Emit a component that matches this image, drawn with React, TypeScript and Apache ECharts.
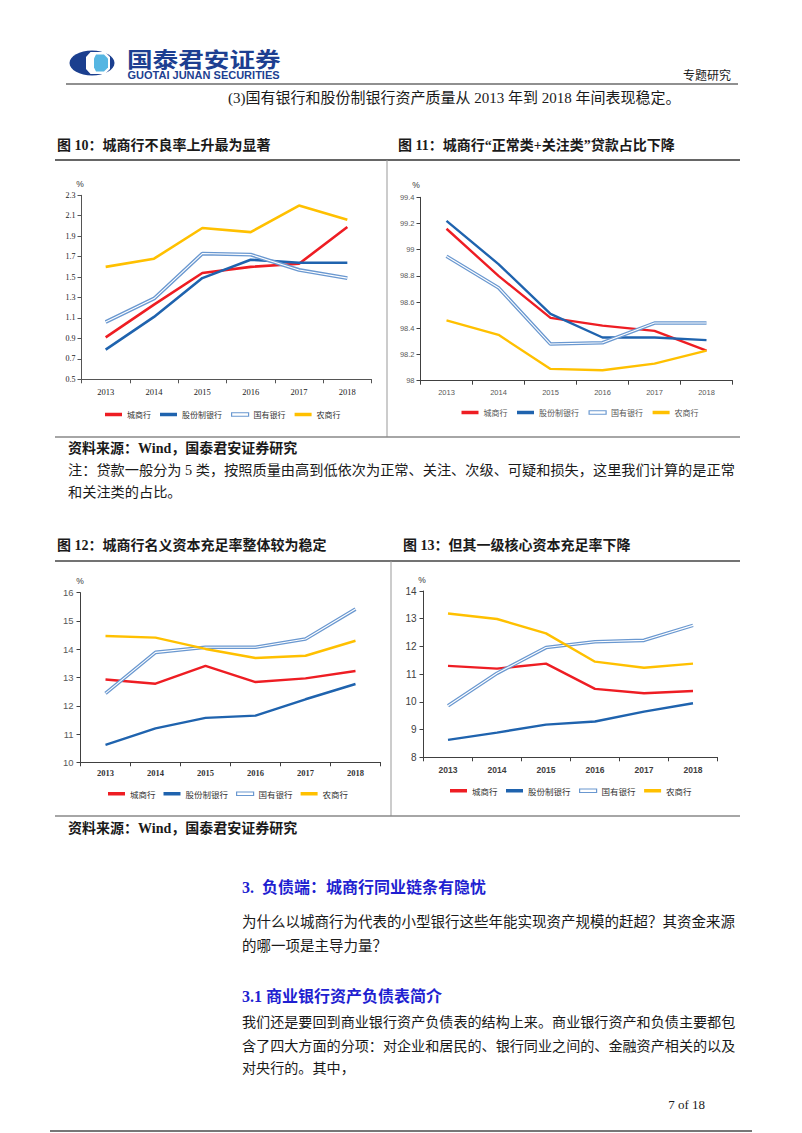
import React, { useEffect, useRef } from "react";
import * as echarts from "echarts";

// ---------- data ----------
const years = ["2013", "2014", "2015", "2016", "2017", "2018"];
const bankNames = ["城商行", "股份制银行", "国有银行", "农商行"];

// 图10 不良率 (%)
const npl_city = [0.91, 1.23, 1.54, 1.6, 1.63, 1.99];
const npl_joint = [0.79, 1.11, 1.49, 1.67, 1.64, 1.64];
const npl_state = [1.06, 1.29, 1.73, 1.72, 1.57, 1.49];
const npl_rural = [1.6, 1.68, 1.98, 1.94, 2.2, 2.06];
const npl_axis = [0.5, 2.3, 0.2];

// 图11 正常类+关注类 占比 (%)
const normal_city = [99.16, 98.8, 98.48, 98.42, 98.38, 98.23];
const normal_joint = [99.22, 98.89, 98.51, 98.33, 98.33, 98.31];
const normal_state = [98.95, 98.71, 98.28, 98.29, 98.44, 98.44];
const normal_rural = [98.46, 98.35, 98.09, 98.08, 98.13, 98.23];
const normal_axis = [98, 99.4, 0.2];

// 图12 资本充足率 (%)
const car_city = [12.93, 12.78, 13.41, 12.84, 12.97, 13.23];
const car_joint = [10.62, 11.2, 11.57, 11.65, 12.23, 12.77];
const car_state = [12.44, 13.89, 14.07, 14.07, 14.36, 15.42];
const car_rural = [14.47, 14.41, 14.01, 13.69, 13.77, 14.3];
const car_axis = [10, 16, 1];

// 图13 核心一级资本充足率 (%)
const cet1_city = [11.3, 11.2, 11.38, 10.47, 10.31, 10.39];
const cet1_joint = [8.63, 8.89, 9.18, 9.29, 9.65, 9.95];
const cet1_state = [9.86, 11.03, 11.96, 12.17, 12.22, 12.76];
const cet1_rural = [13.19, 12.99, 12.47, 11.45, 11.23, 11.38];
const cet1_axis = [8, 14, 1];

// ---------- texts ----------
const headerLine = "(3)国有银行和股份制银行资产质量从 2013 年到 2018 年间表现稳定。";
const fig10Title = "图 10：城商行不良率上升最为显著";
const fig11Title = "图 11：城商行“正常类+关注类”贷款占比下降";
const fig12Title = "图 12：城商行名义资本充足率整体较为稳定";
const fig13Title = "图 13：但其一级核心资本充足率下降";
const sourceText = "资料来源：Wind，国泰君安证券研究";
const noteLines = [
  "注：贷款一般分为 5 类，按照质量由高到低依次为正常、关注、次级、可疑和损失，这里我们计算的是正常",
  "和关注类的占比。",
];
const sectionTitle = "3.  负债端：城商行同业链条有隐忧";
const para1 = [
  "为什么以城商行为代表的小型银行这些年能实现资产规模的赶超？其资金来源",
  "的哪一项是主导力量？",
];
const subTitle = "3.1 商业银行资产负债表简介";
const para2 = [
  "我们还是要回到商业银行资产负债表的结构上来。商业银行资产和负债主要都包",
  "含了四大方面的分项：对企业和居民的、银行同业之间的、金融资产相关的以及",
  "对央行的。其中，",
];
const pageNo = "7 of 18";

const RED = "#EE1D23";
const DBLUE = "#1F63AE";
const LBLUE = "#6A98D0";
const YELLOW = "#FFC000";
const SERIF = "'Liberation Serif', 'Noto Sans CJK SC', serif";
const SANS = "'Liberation Sans', 'Noto Sans CJK SC', sans-serif";
const CJK = "'Noto Sans CJK SC', 'Liberation Sans', sans-serif";

type ChartCfg = {
  grid: { left: number; top: number; width: number; height: number };
  axis: number[];
  data: number[][];
  legend: { left: number; top: number; gap: number; size: number; color: string };
  axisColor: string;
  xLabel: { size: number; color: string; family: string; bold: boolean; margin: number };
  yLabel: { size: number; color: string; family: string; bold: boolean; margin: number };
  lineW: number;
};

function buildChart(i: number, c: ChartCfg) {
  const colors = [RED, DBLUE, LBLUE, YELLOW];
  const series: any[] = [];
  c.data.forEach((d, k) => {
    series.push({
      type: "line",
      name: bankNames[k],
      xAxisIndex: i,
      yAxisIndex: i,
      data: d,
      symbol: "none",
      smooth: false,
      z: 2 + k,
      itemStyle: { color: colors[k] },
      lineStyle: { color: colors[k], width: k === 2 ? c.lineW + 1.2 : c.lineW },
    });
    if (k === 2) {
      series.push({
        type: "line",
        name: bankNames[k] + "_inner",
        xAxisIndex: i,
        yAxisIndex: i,
        data: d,
        symbol: "none",
        silent: true,
        z: 2 + k,
        itemStyle: { color: "#ffffff" },
        lineStyle: { color: "#ffffff", width: 1.1 },
      });
    }
  });
  const grid = { ...c.grid, containLabel: false };
  const xAxis = {
    type: "category",
    gridIndex: i,
    data: years,
    boundaryGap: true,
    axisLine: { show: true, lineStyle: { color: c.axisColor, width: 1 } },
    axisTick: { show: true, length: 4, alignWithLabel: false, lineStyle: { color: c.axisColor } },
    axisLabel: {
      fontSize: c.xLabel.size,
      color: c.xLabel.color,
      fontFamily: c.xLabel.family,
      fontWeight: c.xLabel.bold ? "bold" : "normal",
      margin: c.xLabel.margin,
    },
    splitLine: { show: false },
  };
  const yAxis = {
    type: "value",
    gridIndex: i,
    min: c.axis[0],
    max: c.axis[1],
    interval: c.axis[2],
    axisLine: { show: true, lineStyle: { color: c.axisColor, width: 1 } },
    axisTick: { show: true, length: 4, lineStyle: { color: c.axisColor } },
    axisLabel: {
      fontSize: c.yLabel.size,
      color: c.yLabel.color,
      fontFamily: c.yLabel.family,
      fontWeight: c.yLabel.bold ? "bold" : "normal",
      margin: c.yLabel.margin,
    },
    splitLine: { show: false },
  };
  const legend = {
    left: c.legend.left,
    top: c.legend.top,
    padding: 0,
    orient: "horizontal",
    icon: "rect",
    itemWidth: 17,
    itemHeight: 3.5,
    itemGap: c.legend.gap,
    selectedMode: false,
    textStyle: { fontSize: c.legend.size, color: c.legend.color, fontFamily: CJK },
    data: [
      { name: bankNames[0] },
      { name: bankNames[1] },
      { name: bankNames[2], itemStyle: { color: "#ffffff", borderColor: LBLUE, borderWidth: 1.2 } },
      { name: bankNames[3] },
    ],
  };
  return { grid, xAxis, yAxis, series, legend };
}

const charts: ChartCfg[] = [
  {
    grid: { left: 81.5, top: 195.3, width: 290, height: 184 },
    axis: npl_axis,
    data: [npl_city, npl_joint, npl_state, npl_rural],
    legend: { left: 105, top: 410.5, gap: 9, size: 8, color: "#333" },
    axisColor: "#555",
    xLabel: { size: 8.5, color: "#222", family: SERIF, bold: false, margin: 8 },
    yLabel: { size: 8, color: "#222", family: SERIF, bold: false, margin: 6 },
    lineW: 2.6,
  },
  {
    grid: { left: 420.5, top: 197.3, width: 312, height: 183.4 },
    axis: normal_axis,
    data: [normal_city, normal_joint, normal_state, normal_rural],
    legend: { left: 461.5, top: 408.5, gap: 9.5, size: 8, color: "#555" },
    axisColor: "#404040",
    xLabel: { size: 7.5, color: "#595959", family: SANS, bold: false, margin: 8 },
    yLabel: { size: 7.5, color: "#595959", family: SANS, bold: false, margin: 6 },
    lineW: 2.4,
  },
  {
    grid: { left: 80.5, top: 592.7, width: 300, height: 169.6 },
    axis: car_axis,
    data: [car_city, car_joint, car_state, car_rural],
    legend: { left: 108, top: 789.5, gap: 8, size: 8.5, color: "#333" },
    axisColor: "#404040",
    xLabel: { size: 8.5, color: "#333", family: SERIF, bold: true, margin: 6 },
    yLabel: { size: 9.5, color: "#595959", family: SANS, bold: false, margin: 7 },
    lineW: 2.4,
  },
  {
    grid: { left: 423.5, top: 591, width: 294, height: 166.3 },
    axis: cet1_axis,
    data: [cet1_city, cet1_joint, cet1_state, cet1_rural],
    legend: { left: 450, top: 786.5, gap: 8.5, size: 8.5, color: "#333" },
    axisColor: "#404040",
    xLabel: { size: 8.5, color: "#404040", family: SANS, bold: true, margin: 8 },
    yLabel: { size: 10, color: "#404040", family: SANS, bold: false, margin: 7 },
    lineW: 2.4,
  },
];

const percentPos = [
  [80, 184],
  [416, 185],
  [80, 580.5],
  [422, 580],
];

function txt(text: string, x: number, y: number, size: number, o: any = {}) {
  return {
    type: "text",
    x,
    y,
    scaleX: o.scaleX || 1,
    silent: true,
    style: {
      text,
      fontSize: size,
      fontFamily: o.family || SERIF,
      fontWeight: o.bold ? "bold" : "normal",
      fill: o.color || "#1a1a1a",
      align: o.align || "left",
      verticalAlign: "middle",
    },
  };
}
function hline(x1: number, x2: number, y: number, color: string, w: number) {
  return { type: "line", silent: true, shape: { x1, y1: y, x2, y2: y }, style: { stroke: color, lineWidth: w } };
}
function vline(x: number, y1: number, y2: number, color: string, w: number) {
  return { type: "line", silent: true, shape: { x1: x, y1, x2: x, y2 }, style: { stroke: color, lineWidth: w } };
}

export default function App() {
  const ref = useRef<HTMLDivElement>(null);
  useEffect(() => {
    document.body.style.margin = "0";
    document.body.style.overflow = "hidden";
    if (!ref.current) return;
    const chart = echarts.init(ref.current, undefined, { renderer: "svg" });
    const parts = charts.map((c, i) => buildChart(i, c));
    const graphic: any[] = [
      // logo
      { type: "ellipse", silent: true, shape: { cx: 92, cy: 63, rx: 22.5, ry: 12.5 }, style: { fill: "#1b3f8f" } },
      {
        type: "polygon",
        silent: true,
        shape: { points: [[86, 57], [90.5, 52], [105, 52], [110, 57], [110, 69], [105, 74], [90.5, 74], [86, 69]] },
        style: { fill: "#ffffff" },
      },
      {
        type: "polygon",
        silent: true,
        shape: { points: [[96, 54.5], [104, 54.5], [108, 58.5], [108, 67.5], [104, 71.5], [96, 71.5], [94, 67.5], [94, 58.5]] },
        style: { fill: "#56b6e2" },
      },
      txt("国泰君安证券", 127, 58.5, 21, { family: CJK, bold: true, color: "#1d3f91", scaleX: 1.22 }),
      txt("GUOTAI JUNAN SECURITIES", 127.5, 75, 10.5, { family: SANS, bold: true, color: "#1d3f91", scaleX: 1.05 }),
      txt("专题研究", 683, 74, 12, { family: CJK }),
      hline(66, 738, 84, "#222", 1.2),
      txt(headerLine, 228, 98, 15),
      // figure titles row 1
      txt(fig10Title, 57, 145, 14, { bold: true }),
      txt(fig11Title, 398, 145, 14, { bold: true }),
      hline(55, 740, 160, "#333", 1.6),
      vline(387, 160, 437, "#999", 1),
      hline(55, 740, 437, "#888", 1.4),
      txt(sourceText, 68, 448, 14, { bold: true }),
      txt(noteLines[0], 68, 470, 14.2),
      txt(noteLines[1], 68, 492, 14.2),
      // figure titles row 2
      txt(fig12Title, 57, 545, 14, { bold: true }),
      txt(fig13Title, 403, 545, 14, { bold: true }),
      hline(55, 740, 561, "#444", 1.6),
      vline(391, 561, 816, "#999", 1),
      hline(55, 740, 816, "#888", 1.4),
      txt(sourceText, 68, 828, 14, { bold: true }),
      // section
      txt(sectionTitle, 242, 887, 16, { bold: true, color: "#1f1fd1" }),
      txt(para1[0], 242, 922, 14.5),
      txt(para1[1], 242, 946, 14.5),
      txt(subTitle, 242, 996, 16, { bold: true, color: "#1f1fd1" }),
      txt(para2[0], 242, 1022, 14.1),
      txt(para2[1], 242, 1046, 14.1),
      txt(para2[2], 242, 1068, 14.1),
      txt(pageNo, 705, 1104, 13, { align: "right" }),
      hline(50, 752, 1131, "#777", 2),
    ];
    percentPos.forEach((p) => graphic.push(txt("%", p[0], p[1], 8.5, { family: SANS, color: "#333", align: "center" })));

    chart.setOption({
      animation: false,
      backgroundColor: "#ffffff",
      grid: parts.map((p) => p.grid),
      xAxis: parts.map((p) => p.xAxis),
      yAxis: parts.map((p) => p.yAxis),
      legend: parts.map((p) => p.legend),
      series: parts.flatMap((p) => p.series),
      graphic,
    });
    return () => chart.dispose();
  }, []);
  return <div ref={ref} style={{ position: "absolute", left: 0, top: 0, width: 802, height: 1133 }} />;
}
